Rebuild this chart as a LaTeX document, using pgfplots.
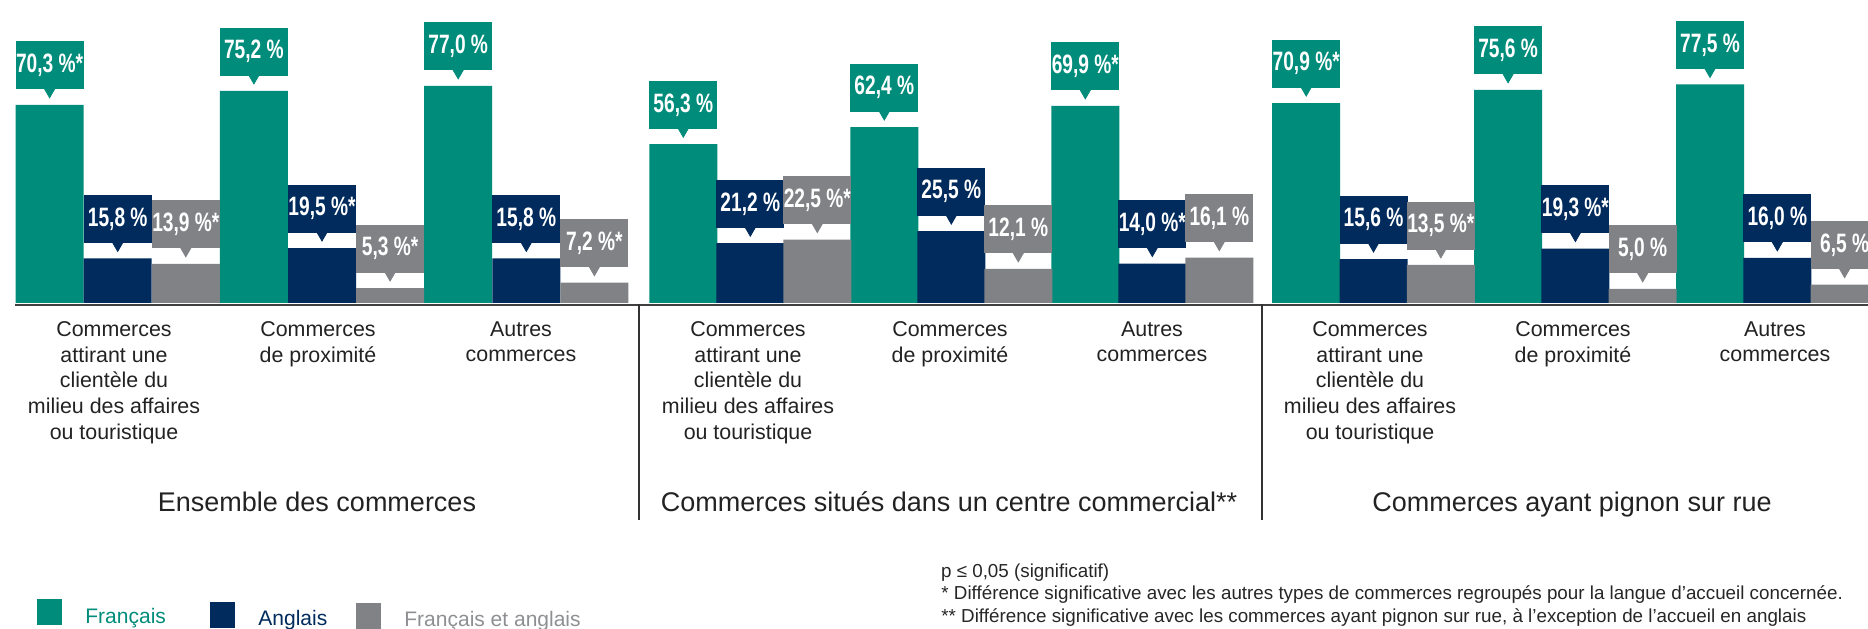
\documentclass[border=0pt]{standalone}
\usepackage{fontspec}
\setmainfont{Liberation Sans}
\newfontfamily\labfont[FakeStretch=0.72]{Liberation Sans Bold}
\usepackage{pgfplots}
\pgfplotsset{compat=1.18}
\usepackage{pgfplotstable}

\definecolor{fr}{RGB}{0,140,122}
\definecolor{en}{RGB}{0,43,92}
\definecolor{bi}{RGB}{128,130,134}
\definecolor{txt}{RGB}{34,34,34}

% x = centre de la barre (px), y = pourcentage
\pgfplotstableread{
x      y    lab
49.6   70.3 70,3~\%*
253.9  75.2 75,2~\%
458.2  77.0 77,0~\%
683.3  56.3 56,3~\%
884.3  62.4 62,4~\%
1085.3 69.9 69,9~\%*
1306.2 70.9 70,9~\%*
1508.1 75.6 75,6~\%
1710.0 77.5 77,5~\%
}\tabfr

\pgfplotstableread{
x      y    lab
117.7  15.8 15,8~\%
322.0  19.5 19,5~\%*
526.3  15.8 15,8~\%
750.3  21.2 21,2~\%
951.3  25.5 25,5~\%
1152.3 14.0 14,0~\%*
1373.5 15.6 15,6~\%
1575.4 19.3 19,3~\%*
1777.3 16.0 16,0~\%
}\taben

\pgfplotstableread{
x      y    lab
185.8  13.9 13,9~\%*
390.1  5.3  5,3~\%*
594.4  7.2  7,2~\%*
817.3  22.5 22,5~\%*
1018.3 12.1 12,1~\%
1219.3 16.1 16,1~\%
1440.8 13.5 13,5~\%*
1642.7 5.0  5,0~\%
1844.6 6.5  6,5~\%
}\tabbi

\pgfplotsset{
  valbox/.style={nodes near coords, point meta=explicit symbolic,
    nodes near coords style={anchor=south, yshift=7.5pt, fill=#1,
        minimum width=34pt, minimum height=24pt, inner sep=0pt, text=white,
        font=\labfont\fontsize{13.3pt}{14pt}\selectfont}},
  tip/.style={only marks, color=#1, mark=triangle*, mark size=2.9pt,
    mark options={yshift=6.4pt, rotate=180, fill=#1, draw=none}},
}

\begin{document}
\begin{tikzpicture}
\path[use as bounding box] (0,0) rectangle (934pt,314pt);
\clip (0,0) rectangle (934pt,314pt);

\begin{axis}[
    at={(0,0)}, anchor=south west,
    scale only axis, width=934pt, height=314pt,
    xmin=0, xmax=1868, ymin=-115.25, ymax=107.45,
    hide axis, clip=false,
    ybar, bar width=68,
  ]
\addplot[fill=fr, draw=none, bar shift=0pt, valbox=fr]
    table[x=x, y=y, meta=lab] {\tabfr};
\addplot[fill=en, draw=none, bar shift=0pt, valbox=en]
    table[x=x, y=y, meta=lab] {\taben};
\addplot[fill=bi, draw=none, bar shift=0pt, valbox=bi]
    table[x=x, y=y, meta=lab] {\tabbi};
\addplot[tip=fr] table[x=x, y=y] {\tabfr};
\addplot[tip=en] table[x=x, y=y] {\taben};
\addplot[tip=bi] table[x=x, y=y] {\tabbi};
\end{axis}

% coordonnees en pixels de l'image d'origine
\begin{scope}[x=0.5pt, y=-0.5pt, shift={(0pt,314pt)}]
\draw[line width=1pt, black!75] (15,304.5) -- (1868,304.5);
\draw[line width=0.7pt, black!80] (638.8,304) -- (638.8,520);
\draw[line width=0.7pt, black!80] (1261.8,304) -- (1261.8,520);

\foreach \cx/\lbl in {
    114/{Commerces\\attirant une\\clientèle du\\milieu des affaires\\ou touristique},
    318/{Commerces\\de proximité},
    521/{Autres\\commerces},
    748/{Commerces\\attirant une\\clientèle du\\milieu des affaires\\ou touristique},
    950/{Commerces\\de proximité},
    1152/{Autres\\commerces},
    1370/{Commerces\\attirant une\\clientèle du\\milieu des affaires\\ou touristique},
    1573/{Commerces\\de proximité},
    1775/{Autres\\commerces}}
  \node[anchor=north, align=center, inner sep=0pt, text=txt,
        font=\fontsize{10.7pt}{12.9pt}\selectfont] at (\cx,321) {\lbl};

\begin{scope}[every node/.style={anchor=base, inner sep=0pt, text=txt,
        font=\fontsize{13.5pt}{16pt}\selectfont}]
\node at (317,511) {Ensemble des commerces};
\node at (949,511) {Commerces situés dans un centre commercial**};
\node at (1572,511) {Commerces ayant pignon sur rue};
\end{scope}

% legende
\fill[fr] (37,599) rectangle (62,625);
\fill[en] (210,602) rectangle (235,628);
\fill[bi] (356,603) rectangle (381,629);
\begin{scope}[every node/.style={anchor=base west, inner sep=0pt,
        font=\fontsize{10.5pt}{12pt}\selectfont}]
\node[text=fr] at (85,623) {Français};
\node[text=en] at (258,625.5) {Anglais};
\node[text=bi!90] at (404,626.5) {Français et anglais};
\end{scope}

% notes
\begin{scope}[every node/.style={anchor=base west, inner sep=0pt, text=black!85,
        font=\fontsize{9.4pt}{10pt}\selectfont}]
\node at (940.7,577) {p ≤ 0,05 (significatif)};
\node at (941,599.5) {* Différence significative avec les autres types de commerces regroupés pour la langue d’accueil concernée.};
\node at (941,622) {** Différence significative avec les commerces ayant pignon sur rue, à l’exception de l’accueil en anglais};
\end{scope}
\end{scope}
\end{tikzpicture}
\end{document}
